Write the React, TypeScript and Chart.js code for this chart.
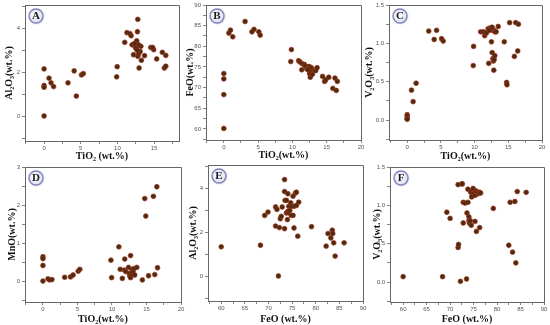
import React, { useEffect, useRef } from 'react';
import { Chart, registerables } from 'chart.js';
Chart.register(...registerables);

// ---------- data ----------
const aTiO2 = [0, 0, 0, 0, 0.68, 0.95, 1.3, 3.26, 4.1, 4.4, 5.1, 5.35, 9.97, 9.9, 11.0, 11.3, 11.7, 11.87, 12.0, 12.2, 12.55, 12.64, 12.73, 12.78, 12.4, 12.64, 12.78, 12.9, 12.96, 13.1, 13.2, 13.27, 13.7, 14.55, 14.95, 14.8, 15.36, 16.13, 16.4, 16.6, 16.6, 12.3, 12.5, 12.7, 12.9];
const aAl2O3 = [2.16, 1.41, 1.33, 0.03, 1.74, 1.53, 1.36, 1.53, 2.07, 0.93, 1.89, 1.95, 2.26, 1.8, 3.36, 3.8, 3.76, 3.66, 3.25, 2.8, 3.36, 3.43, 3.84, 4.4, 3.18, 3.18, 2.73, 2.85, 2.2, 2.95, 3.18, 2.55, 2.76, 3.13, 3.03, 3.13, 2.61, 2.91, 2.2, 2.28, 2.77, 3.3, 3.1, 3.0, 3.25];

const bTiO2 = [0, 0, 0, 0, 0.73, 0.97, 1.3, 3.1, 4.1, 4.4, 5.1, 5.3, 9.85, 9.76, 10.9, 11.1, 11.4, 11.36, 11.75, 11.85, 12.1, 12.3, 12.5, 12.7, 12.6, 12.9, 12.4, 12.8, 12.6, 12.5, 12.9, 13.2, 13.4, 13.6, 14.4, 14.7, 14.85, 15.3, 15.9, 16.2, 16.4, 16.55, 12.4, 12.6, 12.7, 12.5, 12.3];
const bFeO = [73.4, 72.1, 68.3, 60.1, 83.2, 83.9, 82.3, 86.0, 83.5, 84.1, 83.5, 82.7, 79.2, 76.3, 76.5, 76.2, 75.8, 74.3, 75.6, 75.2, 74.5, 74.8, 74.2, 74.9, 73.9, 74.5, 75.1, 73.5, 72.5, 73.4, 73.2, 74.1, 74.1, 74.8, 72.7, 71.5, 71.9, 72.5, 69.8, 72.3, 69.3, 71.5, 74.6, 74.4, 74.7, 74.0, 74.3];

const cTiO2 = [0, 0, 0, 0, 0.64, 0.88, 1.32, 3.2, 4.0, 4.36, 5.1, 5.34, 9.85, 9.8, 10.9, 11.3, 11.5, 11.6, 11.8, 12.0, 12.3, 12.5, 12.7, 12.9, 13.0, 13.2, 13.5, 12.5, 12.6, 12.7, 12.8, 12.9, 13.0, 12.1, 12.85, 14.4, 14.75, 14.8, 15.2, 16.1, 16.5, 15.9, 16.4, 12.4, 12.6, 12.2];
const cV2O3 = [0.07, 0.05, 0.02, 0.01, 0.39, 0.24, 0.48, 1.16, 1.05, 1.17, 1.06, 1.03, 0.96, 0.71, 1.15, 1.15, 1.1, 1.13, 1.14, 1.19, 1.2, 1.18, 1.17, 1.17, 1.15, 1.15, 1.22, 1.02, 0.88, 0.8, 0.77, 0.79, 0.84, 0.74, 0.65, 1.02, 0.49, 0.46, 1.27, 1.27, 1.25, 0.83, 0.9, 1.19, 1.21, 1.17];

const dTiO2 = [0, 0, 0, 0, 0.73, 0.97, 1.3, 3.15, 4.0, 4.37, 5.1, 5.34, 9.85, 9.95, 11.0, 11.2, 11.5, 11.85, 11.8, 12.0, 12.4, 12.5, 12.6, 12.7, 12.7, 12.85, 12.9, 13.05, 13.2, 13.3, 13.6, 14.4, 14.75, 14.9, 15.3, 16.0, 16.2, 16.5, 16.6];
const dMnO = [0.64, 0.59, 0.41, 0.0, 0.06, 0.03, 0.04, 0.1, 0.11, 0.16, 0.26, 0.31, 0.55, 0.09, 0.9, 0.31, 0.07, 0.58, 0.29, 0.25, 0.36, 0.2, 0.13, 0.67, 0.09, 0.18, 0.31, 0.25, 0.33, 0.16, 0.36, 0.03, 2.17, 1.71, 0.14, 2.23, 0.17, 2.48, 0.35];

const eFeO = [60.0, 68.3, 69.2, 69.9, 71.5, 71.8, 71.5, 72.1, 72.3, 72.5, 72.7, 72.9, 73.4, 73.5, 73.4, 73.4, 73.8, 74.0, 73.8, 74.1, 74.3, 74.0, 74.1, 74.3, 74.5, 74.7, 74.8, 74.8, 75.2, 75.2, 75.4, 75.4, 75.7, 75.9, 75.9, 76.4, 76.2, 79.1, 82.2, 82.6, 83.2, 83.5, 83.6, 83.8, 84.1, 86.0];
const eAl2O3 = [1.35, 1.42, 2.77, 2.92, 3.15, 3.04, 2.29, 0.03, 2.22, 2.62, 2.73, 3.15, 4.39, 3.45, 3.85, 2.17, 3.45, 2.92, 2.88, 2.95, 2.9, 2.58, 3.75, 3.18, 3.0, 3.34, 3.18, 2.77, 3.64, 2.77, 2.2, 3.18, 3.78, 3.82, 3.22, 3.37, 1.83, 2.26, 1.38, 1.95, 1.75, 2.1, 1.95, 1.53, 0.93, 1.53];

const fFeO = [60.0, 68.4, 72.2, 73.5, 69.3, 70.0, 71.7, 71.8, 71.7, 72.5, 72.6, 72.8, 73.2, 73.8, 72.8, 73.6, 73.8, 74.0, 74.0, 74.1, 74.3, 74.5, 74.4, 74.6, 74.7, 74.9, 75.1, 75.3, 75.5, 75.7, 75.9, 76.1, 76.3, 76.5, 75.3, 75.6, 76.3, 79.2, 82.5, 82.8, 83.3, 83.8, 84.0, 84.3, 86.2];
const fV2O3 = [0.07, 0.07, 0.01, 0.04, 0.91, 0.83, 0.45, 0.49, 1.27, 1.28, 1.28, 1.04, 1.03, 1.04, 0.77, 0.9, 1.21, 0.85, 0.8, 0.77, 0.8, 0.74, 1.17, 1.11, 1.19, 1.22, 1.16, 1.13, 1.19, 1.17, 1.15, 1.17, 1.17, 1.16, 0.79, 0.66, 0.71, 0.96, 0.48, 1.04, 0.39, 1.05, 0.25, 1.18, 1.17];

const panelLabels = ['A', 'B', 'C', 'D', 'E', 'F'];
const xTitles = ['TiO₂ (wt.%)', 'TiO₂(wt.%)', 'TiO₂(wt.%)', 'TiO₂(wt.%)', 'FeO (wt.%)', 'FeO (wt.%)'];
const yTitles = ['Al₂O₃(wt.%)', 'FeO(wt.%)', 'V₂O₃(wt.%)', 'MnO(wt.%)', 'Al₂O₃(wt.%)', 'V₂O₃(wt.%)'];

// ---------- layout / axis config ----------
type Panel = {
  label: string; xs: number[]; ys: number[]; xTitle: string; yTitle: string;
  xMin: number; xMax: number; xMajor: number; yMin: number; yMax: number; yMajor: number; yDec: number;
  L: number; T: number; R: number; B: number; yt: number; xt: number;
};

const panels: Panel[] = [
  { label: panelLabels[0], xs: aTiO2, ys: aAl2O3, xTitle: xTitles[0], yTitle: yTitles[0], xMin: -2.6, xMax: 18.4, xMajor: 5, yMin: -1.1, yMax: 5.05, yMajor: 2, yDec: 0, L: 25, T: 5, R: 179, B: 141, yt: 9, xt: 156 },
  { label: panelLabels[1], xs: bTiO2, ys: bFeO, xTitle: xTitles[1], yTitle: yTitles[1], xMin: -2.6, xMax: 20, xMajor: 5, yMin: 57.3, yMax: 90, yMajor: 5, yDec: 0, L: 206, T: 5, R: 361, B: 140, yt: 190, xt: 155 },
  { label: panelLabels[2], xs: cTiO2, ys: cV2O3, xTitle: xTitles[2], yTitle: yTitles[2], xMin: -2.7, xMax: 20, xMajor: 5, yMin: -0.26, yMax: 1.5, yMajor: 0.5, yDec: 1, L: 389, T: 5, R: 542, B: 140, yt: 369, xt: 156 },
  { label: panelLabels[3], xs: dTiO2, ys: dMnO, xTitle: xTitles[3], yTitle: yTitles[3], xMin: -2.6, xMax: 20, xMajor: 5, yMin: -0.55, yMax: 3, yMajor: 1, yDec: 0, L: 25, T: 167, R: 181, B: 302, yt: 12, xt: 319 },
  { label: panelLabels[4], xs: eFeO, ys: eAl2O3, xTitle: xTitles[4], yTitle: yTitles[4], xMin: 57.2, xMax: 90, xMajor: 5, yMin: -1.1, yMax: 5.05, yMajor: 2, yDec: 0, L: 208, T: 165, R: 363, B: 301, yt: 193, xt: 319 },
  { label: panelLabels[5], xs: fFeO, ys: fV2O3, xTitle: xTitles[5], yTitle: yTitles[5], xMin: 57.2, xMax: 90, xMajor: 5, yMin: -0.26, yMax: 1.5, yMajor: 0.5, yDec: 1, L: 390, T: 167, R: 544, B: 302, yt: 377, xt: 319 },
];

const SERIF = "'Liberation Serif','Times New Roman',serif";
const SANS = "'Liberation Sans',Arial,sans-serif";
const AXW = 30; // y-axis box width
const AXH = 24; // x-axis box height
const PADT = 5;
const PADR = 5;
const TITLE_LH = 12;

const isMajor = (v: number, m: number) => Math.abs(v / m - Math.round(v / m)) < 1e-6;

const framePlugin = {
  id: 'frame',
  afterDraw(chart: any, _args: any, opts: any) {
    const { ctx, chartArea: a } = chart;
    ctx.save();
    ctx.strokeStyle = '#666';
    ctx.lineWidth = 1;
    ctx.beginPath();
    ctx.moveTo(a.left, a.top + 0.5);
    ctx.lineTo(a.right + 0.5, a.top + 0.5);
    ctx.lineTo(a.right + 0.5, a.bottom);
    ctx.stroke();
    // badge
    const cx = a.left + 11;
    const cy = a.top + 11;
    const r = 7;
    ctx.shadowColor = 'rgba(80,80,140,0.5)';
    ctx.shadowBlur = 2;
    ctx.shadowOffsetX = 0.5;
    ctx.shadowOffsetY = 0.5;
    const g = ctx.createRadialGradient(cx - 2, cy - 2, 1, cx, cy, r);
    g.addColorStop(0, '#ffffff');
    g.addColorStop(1, '#dedff0');
    ctx.fillStyle = g;
    ctx.beginPath();
    ctx.arc(cx, cy, r, 0, Math.PI * 2);
    ctx.fill();
    ctx.shadowColor = 'transparent';
    ctx.strokeStyle = '#8386bd';
    ctx.lineWidth = 1.4;
    ctx.stroke();
    ctx.fillStyle = '#1a1a1a';
    ctx.font = `bold 11px ${SERIF}`;
    ctx.textAlign = 'center';
    ctx.textBaseline = 'middle';
    ctx.fillText(opts.label, cx, cy + 0.5);
    ctx.restore();
  },
};

export default function App() {
  const refs = useRef<(HTMLCanvasElement | null)[]>([]);

  useEffect(() => {
    const charts = panels.map((p, i) => {
      const canvas = refs.current[i]!;
      const yPadTop = p.yt - (p.L - AXW) - TITLE_LH / 2;
      const xPadBottom = p.B + AXH - p.xt - TITLE_LH / 2;
      const xMinor = p.xMajor / 2;
      const yMinor = p.yMajor / 2;
      return new Chart(canvas, {
        type: 'scatter',
        data: {
          datasets: [
            {
              data: p.xs.map((x, k) => ({ x, y: p.ys[k] })),
              backgroundColor: '#4a2c0e',
              borderColor: '#a3301c',
              borderWidth: 0.7,
              pointRadius: 2.4,
            },
          ],
        },
        options: {
          responsive: false,
          animation: false,
          layout: { padding: { top: PADT, right: PADR, left: 0, bottom: 0 } },
          plugins: {
            legend: { display: false },
            tooltip: { enabled: false },
            frame: { label: p.label },
          } as any,
          scales: {
            x: {
              type: 'linear',
              position: 'bottom',
              min: p.xMin,
              max: p.xMax,
              afterFit: (s: any) => {
                s.height = AXH;
                s.paddingLeft = 0;
                s.paddingRight = 0;
              },
              grid: { drawOnChartArea: false, drawTicks: true, tickLength: 3, tickColor: '#666', tickWidth: 0.8 },
              border: { color: '#666', width: 1 },
              ticks: {
                stepSize: xMinor,
                includeBounds: false,
                autoSkip: false,
                maxRotation: 0,
                padding: 1,
                color: '#555',
                font: { size: 6, family: SANS },
                callback: (v: any) => (isMajor(Number(v), p.xMajor) ? String(Math.round(Number(v))) : ''),
              },
              title: {
                display: true,
                text: p.xTitle,
                color: '#111',
                font: { size: 10, weight: 'bold', family: SERIF, lineHeight: TITLE_LH / 10 },
                padding: { top: 0, bottom: xPadBottom },
              },
            },
            y: {
              type: 'linear',
              position: 'left',
              min: p.yMin,
              max: p.yMax,
              afterFit: (s: any) => {
                s.width = AXW;
                s.paddingTop = 0;
                s.paddingBottom = 0;
              },
              grid: { drawOnChartArea: false, drawTicks: true, tickLength: 3, tickColor: '#666', tickWidth: 0.8 },
              border: { color: '#666', width: 1 },
              ticks: {
                stepSize: yMinor,
                includeBounds: false,
                autoSkip: false,
                padding: 2,
                color: '#555',
                font: { size: 6, family: SANS },
                callback: (v: any) => (isMajor(Number(v), p.yMajor) ? Number(v).toFixed(p.yDec) : ''),
              },
              title: {
                display: true,
                text: p.yTitle,
                color: '#111',
                font: { size: 10, weight: 'bold', family: SERIF, lineHeight: TITLE_LH / 10 },
                padding: { top: yPadTop, bottom: 0 },
              },
            },
          },
        } as any,
        plugins: [framePlugin],
      });
    });
    return () => charts.forEach((c) => c.destroy());
  }, []);

  return (
    <div style={{ position: 'absolute', left: 0, top: 0, width: 550, height: 325, background: '#fff', overflow: 'hidden' }}>
      {panels.map((p, i) => {
        const left = p.L - AXW;
        const top = p.T - PADT;
        const w = p.R - p.L + AXW + PADR;
        const h = p.B - p.T + PADT + AXH;
        return (
          <canvas
            key={p.label}
            ref={(el) => {
              refs.current[i] = el;
            }}
            width={w}
            height={h}
            style={{ position: 'absolute', left, top, width: w, height: h }}
          />
        );
      })}
    </div>
  );
}
